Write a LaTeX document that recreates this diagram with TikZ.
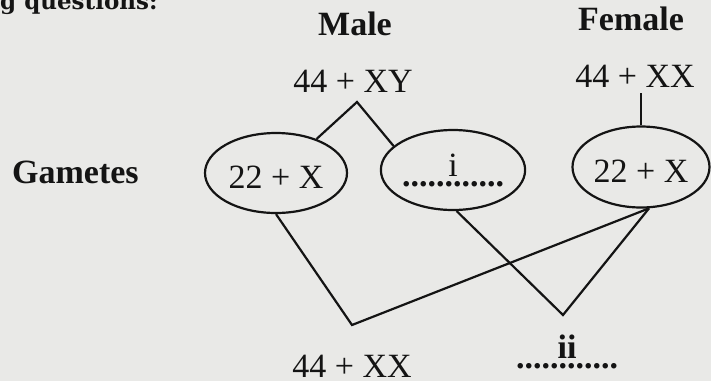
\documentclass[tikz,border=0pt]{standalone}
\usepackage{fontspec}
\setmainfont{Liberation Serif}
\newfontfamily\pagefont{DejaVu Serif}
\usetikzlibrary{shapes,positioning,calc}
\usepackage{xcolor}
\definecolor{papercolor}{RGB}{233,233,231}
\definecolor{inkcolor}{RGB}{20,20,20}

\begin{document}
\begin{tikzpicture}[
    x=1pt, y=-1pt,
    every node/.style={font=\fontsize{34}{40}\selectfont, inner sep=0pt, text=inkcolor},
    gamete/.style={ellipse, draw=inkcolor, line width=2.2pt, minimum width=142pt, minimum height=80pt, text height=30pt, text depth=0pt},
    heading/.style={anchor=base, font=\fontsize{34}{40}\selectfont\bfseries},
    chromo/.style={anchor=base},
    pairline/.style={draw=inkcolor, line width=2.2pt}
]

% Paper
\fill[papercolor] (0,0) rectangle (711,381);
\useasboundingbox (0,0) rectangle (711,381);

% Cut-off line of the page above
\begin{scope}
    \clip (0,0) rectangle (711,381);
    \node[chromo, anchor=base west, font=\pagefont\bfseries\fontsize{23}{30}\selectfont] (prompt) at (0,9) {g questions:};
\end{scope}

% Parents
\node[heading] (male) at (355,35) {Male};
\node[heading] (female) at (631,30) {Female};
\node[chromo] (mxy) at (353,92) {44 + XY};
\node[chromo] (fxx) at (635,87) {44 + XX};

% Gametes
\node[heading, anchor=base west] (gam) at (12,183) {Gametes};
\node[gamete] (mx) at (276,173) {22 + X};
\node[gamete, align=center, text height=33pt] (my) at (453,170) {i\\[-30pt]\textbf{............}};
\node[gamete, minimum width=137pt, minimum height=81pt] (fx) at (641,167) {22 + X};

% Parent to gametes
\coordinate (mtop) at (357,102);
\coordinate (fstem) at (642,93);
\draw[pairline] (mx.40) -- (mtop) -- (my.158);
\draw[pairline] (fx.north) -- (fx.north |- fstem);

% Gametes to offspring
\coordinate (xxjoin) at (352,325);
\coordinate (xyjoin) at (563,315);
\draw[pairline] (mx.south) -- (xxjoin) -- (fx.-79);
\draw[pairline] (my.-85) -- (xyjoin) -- (fx.-79);

% Offspring
\node[chromo] (girl) at (352,377) {44 + XX};
\node[chromo, anchor=center, align=center] (boy) at (567,351.5) {\textbf{ii}\\[-30pt]\textbf{............}};

\end{tikzpicture}
\end{document}
